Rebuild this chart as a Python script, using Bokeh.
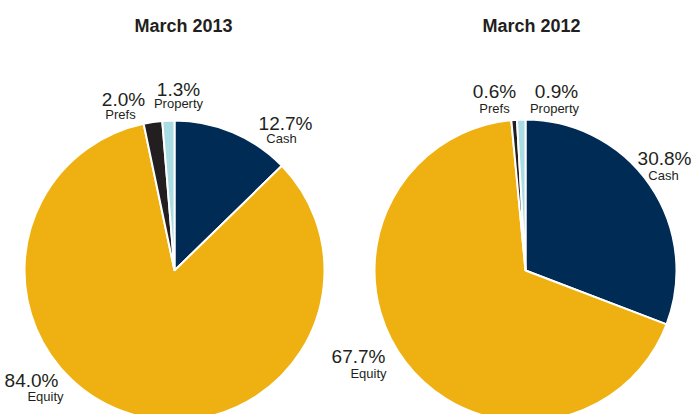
import math
from bokeh.plotting import figure
from bokeh.models import Range1d, ColumnDataSource
from bokeh.core.properties import value
from bokeh.embed import file_html
from bokeh.resources import INLINE

# ---- data ----
categories = ["Cash", "Equity", "Prefs", "Property"]
titles = ["March 2013", "March 2012"]
values_2013 = [12.7, 84.0, 2.0, 1.3]
values_2012 = [30.8, 67.7, 0.6, 0.9]
colors = ["#002b54", "#eeb111", "#231f20", "#a9dce3"]

# ---- layout (picture pixels; y measured from top) ----
W, H = 699, 414
centers = [(174, 270), (525, 270)]
radii = [150, 151]
title_pos = [(183, 25), (531, 25)]
label_pos = [
    [(285, 123), (31, 380), (123, 99), (178, 89)],
    [(664, 158), (358, 356), (494, 91), (556, 91)],
]
name_dx = [
    [(-4, 15), (14, 16), (-3, 15), (0, 14)],
    [(-1, 17), (10, 17), (0, 17), (-2, 17)],
]

p = figure(width=W, height=H, output_backend="svg", toolbar_location=None,
           x_range=Range1d(0, W), y_range=Range1d(0, H),
           min_border=0)
p.axis.visible = False
p.grid.visible = False
p.outline_line_color = None
p.background_fill_color = "white"

def py(y):
    return H - y

all_vals = [values_2013, values_2012]
for i, vals in enumerate(all_vals):
    total = sum(vals)
    cum = 0.0
    starts, ends = [], []
    for v in vals:
        starts.append(math.pi / 2 - 2 * math.pi * cum / total)
        cum += v
        ends.append(math.pi / 2 - 2 * math.pi * cum / total)
    cx, cy = centers[i]
    src = ColumnDataSource(dict(x=[cx] * len(vals), y=[py(cy)] * len(vals),
                                start=starts, end=ends, color=colors))
    p.wedge(x="x", y="y", radius=radii[i], start_angle="start", end_angle="end",
            direction="clock", fill_color="color", line_color="white",
            line_width=2, source=src)

    pct = ["%.1f%%" % v for v in vals]
    lx = [label_pos[i][k][0] for k in range(len(vals))]
    ly = [py(label_pos[i][k][1]) for k in range(len(vals))]
    p.text(x=lx, y=ly, text=pct, text_align="center", text_baseline="middle",
           text_font=value("Liberation Sans"), text_font_size="19px",
           text_color="#231f20")
    nx = [label_pos[i][k][0] + name_dx[i][k][0] for k in range(len(vals))]
    ny = [py(label_pos[i][k][1] + name_dx[i][k][1]) for k in range(len(vals))]
    p.text(x=nx, y=ny, text=categories, text_align="center", text_baseline="middle",
           text_font=value("Liberation Sans"), text_font_size="13px",
           text_color="#231f20")

    tx, ty = title_pos[i]
    p.text(x=[tx], y=[py(ty)], text=[titles[i]], text_align="center",
           text_baseline="middle", text_font=value("Liberation Sans"),
           text_font_size="18px", text_font_style="bold", text_color="#231f20")

open("out.html", "w").write(file_html(p, INLINE))
